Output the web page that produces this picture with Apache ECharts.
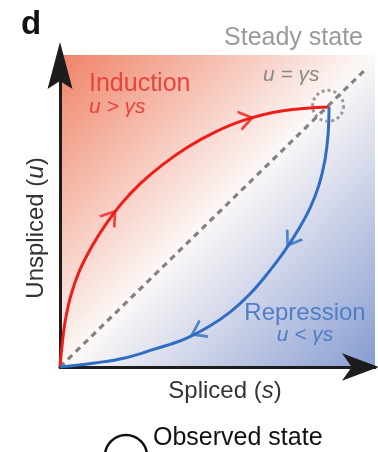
<!DOCTYPE html>
<html>
<head>
<meta charset="utf-8">
<script src="https://cdn.jsdelivr.net/npm/echarts@6/dist/echarts.min.js"></script>
<style>
html,body{margin:0;padding:0;background:#fff;}
#chart{width:378px;height:452px;}
</style>
</head>
<body>
<div id="chart"></div>
<script>
// Induction trajectory (s, u)
const inductionS = [0, 0.006, 0.016, 0.035, 0.063, 0.102, 0.146, 0.197, 0.254, 0.324, 0.406, 0.492, 0.587, 0.708, 0.854];
const inductionU = [0, 0.064, 0.144, 0.231, 0.311, 0.388, 0.458, 0.526, 0.587, 0.647, 0.705, 0.753, 0.792, 0.821, 0.833];
// Repression trajectory (s, u)
const repressionS = [0.854, 0.851, 0.841, 0.822, 0.794, 0.756, 0.711, 0.660, 0.603, 0.540, 0.470, 0.390, 0.302, 0.206, 0.111, 0];
const repressionU = [0.833, 0.744, 0.663, 0.583, 0.510, 0.439, 0.369, 0.301, 0.234, 0.176, 0.128, 0.087, 0.058, 0.029, 0.013, 0];
// Steady-state line u = γs
const steadyS = [0, 0.968];
const steadyU = [0, 0.952];
// Steady state point
const steadyPoint = [0.851, 0.837];
// Direction arrows on the trajectories: s, u, angle
const inductionArrowS = [0.162, 0.590];
const inductionArrowU = [0.482, 0.794];
const inductionArrowRot = [-37, -77];
const repressionArrowS = [0.734, 0.438];
const repressionArrowU = [0.407, 0.114];
const repressionArrowRot = [147, 117];

const zip = (a, b) => a.map((v, i) => [v, b[i]]);
const chev = 'path://M0,13 L9,0 L18,13';
const RED = '#ee1d18';
const BLUE = '#2f6cc2';
const FONT = "'Liberation Sans', Arial, Helvetica, sans-serif";

const chart = echarts.init(document.getElementById('chart'), null, {renderer: 'canvas'});

const axisCommon = {
  type: 'value', min: 0, max: 1,
  axisTick: {show: false}, axisLabel: {show: false}, splitLine: {show: false}
};

chart.setOption({
  animation: false,
  grid: {
    left: 60, top: 55, width: 315, height: 312,
    show: true, borderWidth: 0,
    backgroundColor: new echarts.graphic.LinearGradient(0, 0, 1, 1, [
      {offset: 0, color: '#ef8266'},
      {offset: 0.5, color: '#fcf8f7'},
      {offset: 1, color: '#869cd2'}
    ])
  },
  xAxis: Object.assign({}, axisCommon, {
    axisLine: {
      show: true, onZero: false,
      lineStyle: {color: '#1c1c1c', width: 3},
      symbol: ['none', 'path://M14,0 L28,38 L14,28 L0,38 Z'],
      symbolSize: [28, 37],
      symbolOffset: [0, -14.5]
    }
  }),
  yAxis: Object.assign({}, axisCommon, {
    axisLine: {
      show: true, onZero: false,
      lineStyle: {color: '#1c1c1c', width: 3},
      symbol: ['none', 'path://M12.5,0 L25,47 L12.5,39 L0,47 Z'],
      symbolSize: [25, 47],
      symbolOffset: [0, -10.5]
    }
  }),
  series: [
    {
      type: 'line', data: zip(steadyS, steadyU), showSymbol: false, silent: true,
      lineStyle: {color: '#828282', width: 3.2, type: [6, 5]}, z: 2
    },
    {
      type: 'line', data: zip(inductionS, inductionU), showSymbol: false, silent: true, smooth: 0.4,
      lineStyle: {color: RED, width: 3}, z: 3
    },
    {
      type: 'line', data: zip(repressionS, repressionU), showSymbol: false, silent: true, smooth: 0.4,
      lineStyle: {color: BLUE, width: 3}, z: 3
    },
    {
      type: 'scatter', silent: true, z: 4,
      data: inductionArrowS.map((s, i) => ({value: [s, inductionArrowU[i]], symbolRotate: inductionArrowRot[i]})),
      symbol: chev, symbolSize: [18, 13],
      itemStyle: {color: 'transparent', borderColor: RED, borderWidth: 2.5}
    },
    {
      type: 'scatter', silent: true, z: 4,
      data: repressionArrowS.map((s, i) => ({value: [s, repressionArrowU[i]], symbolRotate: repressionArrowRot[i]})),
      symbol: chev, symbolSize: [18, 13],
      itemStyle: {color: 'transparent', borderColor: BLUE, borderWidth: 2.5}
    },
    {
      type: 'scatter', silent: true, z: 5,
      data: [steadyPoint],
      symbol: 'circle', symbolSize: 31,
      itemStyle: {color: 'transparent', borderColor: '#858585', borderWidth: 3, borderType: [3, 3]}
    }
  ],
  graphic: [
    {type: 'text', x: 21, y: 25, style: {text: 'd', fontFamily: FONT, fontWeight: 'bold', fontSize: 33, fill: '#111', align: 'left', verticalAlign: 'middle'}},
    {type: 'text', x: 363, y: 38, style: {text: 'Steady state', fontFamily: FONT, fontSize: 25, fill: '#9a9a9a', align: 'right', verticalAlign: 'middle'}},
    {type: 'text', x: 263, y: 75, style: {text: 'u = γs', fontFamily: FONT, fontStyle: 'italic', fontSize: 21, fill: '#8a8a8a', align: 'left', verticalAlign: 'middle'}},
    {type: 'text', x: 89, y: 84, style: {text: 'Induction', fontFamily: FONT, fontSize: 25, fill: '#e8443a', align: 'left', verticalAlign: 'middle'}},
    {type: 'text', x: 89, y: 107, style: {text: 'u > γs', fontFamily: FONT, fontStyle: 'italic', fontSize: 21, fill: '#e8443a', align: 'left', verticalAlign: 'middle'}},
    {type: 'text', x: 305, y: 313, style: {text: 'Repression', fontFamily: FONT, fontSize: 24, fill: '#4f7ec6', align: 'center', verticalAlign: 'middle'}},
    {type: 'text', x: 305, y: 335, style: {text: 'u < γs', fontFamily: FONT, fontStyle: 'italic', fontSize: 21, fill: '#4f7ec6', align: 'center', verticalAlign: 'middle'}},
    {type: 'text', x: 225, y: 391, style: {
      text: '{n|Spliced (}{i|s}{n|)}', align: 'center', verticalAlign: 'middle',
      rich: {n: {fontFamily: FONT, fontSize: 24, fill: '#333'}, i: {fontFamily: FONT, fontSize: 24, fontStyle: 'italic', fill: '#333'}}
    }},
    {type: 'text', x: 36, y: 228, rotation: Math.PI / 2, style: {
      text: '{n|Unspliced (}{i|u}{n|)}', align: 'center', verticalAlign: 'middle',
      rich: {n: {fontFamily: FONT, fontSize: 24, fill: '#333'}, i: {fontFamily: FONT, fontSize: 24, fontStyle: 'italic', fill: '#333'}}
    }},
    {type: 'circle', shape: {cx: 126, cy: 456, r: 21}, style: {fill: 'none', stroke: '#111', lineWidth: 2.5}},
    {type: 'text', x: 153, y: 438, style: {text: 'Observed state', fontFamily: FONT, fontSize: 25, fill: '#111', align: 'left', verticalAlign: 'middle'}}
  ]
});
</script>
</body>
</html>
